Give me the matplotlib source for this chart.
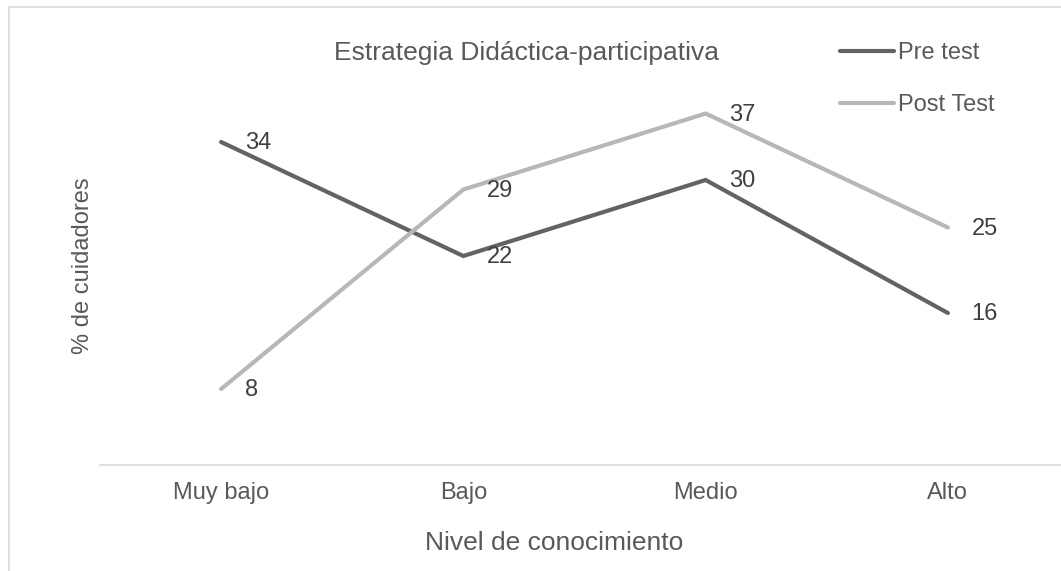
import matplotlib.pyplot as plt
from matplotlib.patches import Rectangle

plt.rcParams['font.family'] = ['Liberation Sans', 'DejaVu Sans']

# Nivel de conocimiento por grupo (% de cuidadores)
niveles = ['Muy bajo', 'Bajo', 'Medio', 'Alto']
pre_test = [34, 22, 30, 16]
post_test = [8, 29, 37, 25]

pre_color = '#636363'
post_color = '#b7b7b7'
text_color = '#595959'
label_color = '#404040'

fig = plt.figure(figsize=(10.61, 5.71), dpi=100)

# chart border (only top and left visible)
fig.patches.append(Rectangle((9 / 1061, -0.1), 1.2, (571 - 7) / 571 + 0.1,
                             transform=fig.transFigure, fill=False,
                             edgecolor='#d9d9d9', linewidth=1.2))

ax = fig.add_axes([100 / 1061, (571 - 465) / 571, 969 / 1061, 380 / 571])
x = range(len(niveles))
ax.plot(x, pre_test, color=pre_color, linewidth=3.0, solid_capstyle='round',
        solid_joinstyle='miter', label='Pre test')
ax.plot(x, post_test, color=post_color, linewidth=3.0, solid_capstyle='round',
        solid_joinstyle='miter', label='Post Test')

for xi, v in zip(x, pre_test):
    ax.annotate(str(v), (xi, v), xytext=(17, -1), textcoords='offset points',
                ha='left', va='center', fontsize=17, color=label_color)
for xi, v in zip(x, post_test):
    ax.annotate(str(v), (xi, v), xytext=(17, -1), textcoords='offset points',
                ha='left', va='center', fontsize=17, color=label_color)

ax.set_xlim(-0.5, 3.5)
ax.set_ylim(0, 40)
ax.set_xticks(list(x))
ax.set_xticklabels(niveles, fontsize=17, color=text_color)
ax.tick_params(axis='x', length=0, pad=12)
ax.set_yticks([])
for s in ['top', 'right', 'left']:
    ax.spines[s].set_visible(False)
ax.spines['bottom'].set_color('#d9d9d9')
ax.spines['bottom'].set_linewidth(1.2)

fig.text(527 / 1061, 1 - 53 / 571, 'Estrategia Didáctica-participativa',
         ha='center', va='center', fontsize=19, color=text_color)
fig.text(554 / 1061, 1 - 543 / 571, 'Nivel de conocimiento',
         ha='center', va='center', fontsize=19, color=text_color)
fig.text(83 / 1061, 1 - 266 / 571, '% de cuidadores', rotation=90,
         ha='center', va='center', fontsize=17, color=text_color)

ax.legend(loc='upper left', bbox_to_anchor=(840 / 1061, 1 - 42 / 571),
          bbox_transform=fig.transFigure, frameon=False, fontsize=17,
          handlelength=2.3, handletextpad=0.15, labelspacing=1.27,
          labelcolor=text_color, borderpad=0, borderaxespad=0)

fig.savefig('out.png', dpi=100)
